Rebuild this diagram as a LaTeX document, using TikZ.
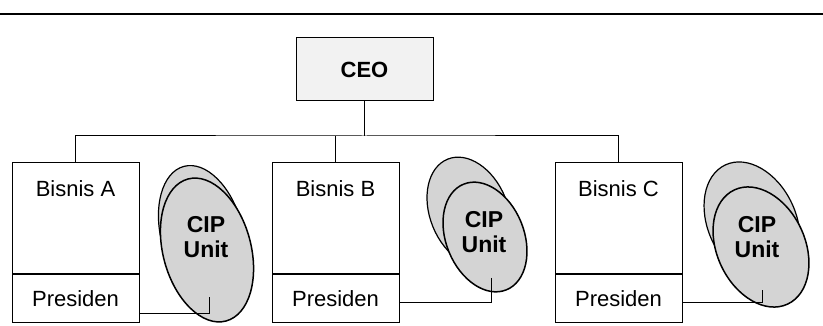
\documentclass[tikz,border=0pt]{standalone}
\usepackage{fontspec}
\setmainfont{Liberation Sans}
\usepackage{tikz}
\usetikzlibrary{positioning, shapes.geometric}

\begin{document}
\begin{tikzpicture}[x=1pt, y=-1pt, line width=1pt,
        biz/.style = {draw, minimum width=127pt, inner sep=0pt, font=\fontsize{22}{25}\selectfont},
        cip/.style = {draw, ellipse, fill=black!17, inner sep=0pt, line width=1.2pt},
        lbl/.style = {align=center, font=\fontsize{23}{25}\selectfont\bfseries}]
            \useasboundingbox (0,0) rectangle (823,326);
            \draw[line width=2pt] (0,14) -- (823,14);

            \node[draw, fill=black!5, minimum width=137pt, minimum height=63pt,
                  font=\fontsize{22}{26}\selectfont\bfseries] (ceo) at (364.5,69.5) {CEO};

            \node[biz, text height=34pt, text depth=77pt, anchor=north] (a) at (75.5,162) {Bisnis A};
            \node[biz, minimum height=48pt, below=0pt of a] (pa) {Presiden};
            \node[biz, text height=34pt, text depth=77pt, anchor=north] (b) at (335.5,162) {Bisnis B};
            \node[biz, minimum height=48pt, below=0pt of b] (pb) {Presiden};
            \node[biz, text height=34pt, text depth=77pt, anchor=north] (c) at (618.5,162) {Bisnis C};
            \node[biz, minimum height=48pt, below=0pt of c] (pc) {Presiden};

            \coordinate (bus) at (364.5,136);
            \draw (ceo) -- (bus);
            \draw (a.north) |- (bus) -| (c.north);
            \draw (b.north) -- (b.north |- bus);

            % CIP units
            \node[cip, minimum width=82pt, minimum height=140pt, rotate=15] (ua) at (202,234) {};
            \node[cip, minimum width=88pt, minimum height=147pt, rotate=15, line width=1.5pt] (va) at (207,250) {};
            \node[lbl] (la) at (206,237) {CIP\\Unit};

            \node[cip, minimum width=78pt, minimum height=114pt, rotate=22] (ub) at (469,212) {};
            \node[cip, minimum width=78pt, minimum height=114pt, rotate=22, line width=1.5pt] (vb) at (485,237) {};
            \node[lbl] (lb) at (484,232) {CIP\\Unit};

            \node[cip, minimum width=88pt, minimum height=126pt, rotate=25] (uc) at (752,222) {};
            \node[cip, minimum width=88pt, minimum height=126pt, rotate=25, line width=1.5pt] (vc) at (761,247) {};
            \node[lbl] (lc) at (757,237) {CIP\\Unit};

            \coordinate (ea) at (209,297);
            \coordinate (fa) at (209,313);
            \coordinate (eb) at (491,278);
            \coordinate (fb) at (491,302);
            \coordinate (ec) at (762,290);
            \coordinate (fc) at (762,302);
            \draw (ea) -- (fa) -- (fa -| pa.east);
            \draw (eb) -- (fb) -- (fb -| pb.east);
            \draw (ec) -- (fc) -- (fc -| pc.east);
\end{tikzpicture}
\end{document}
